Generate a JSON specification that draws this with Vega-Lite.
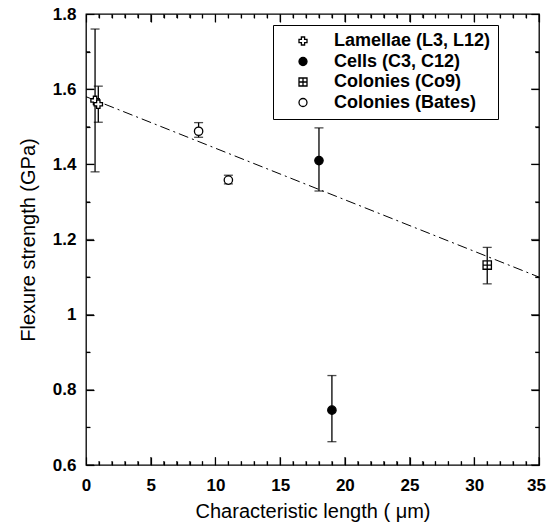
{
  "$schema": "https://vega.github.io/schema/vega-lite/v6.json",
  "width": 453,
  "height": 451,
  "autosize": {"type": "none"},
  "padding": {"left": 86, "top": 14, "right": 8, "bottom": 62},
  "background": "white",
  "config": {
    "view": {"stroke": "black", "strokeWidth": 1.3},
    "font": "Liberation Sans",
    "axis": {
      "domain": false,
      "grid": false,
      "ticks": true,
      "tickColor": "black",
      "tickOpacity": 1,
      "tickWidth": 1.2,
      "labelColor": "black",
      "labelFont": "Liberation Sans",
      "labelFontWeight": "bold",
      "labelFontSize": 17,
      "titleFont": "Liberation Sans",
      "titleFontWeight": "normal",
      "titleFontSize": 20,
      "titleColor": "black",
      "labelOverlap": false,
      "labelFlush": false
    }
  },
  "datasets": {
    "pts": [
      {"series": "Lamellae (L3, L12)", "x": 0.7, "y": 1.57, "lo": 1.38, "hi": 1.76},
      {"series": "Lamellae (L3, L12)", "x": 0.95, "y": 1.56, "lo": 1.512, "hi": 1.608},
      {"series": "Cells (C3, C12)", "x": 18.0, "y": 1.41, "lo": 1.329, "hi": 1.497},
      {"series": "Cells (C3, C12)", "x": 19.0, "y": 0.746, "lo": 0.662, "hi": 0.838},
      {"series": "Colonies (Co9)", "x": 31.0, "y": 1.132, "lo": 1.082, "hi": 1.179},
      {"series": "Colonies (Bates)", "x": 8.7, "y": 1.488, "lo": 1.472, "hi": 1.511},
      {"series": "Colonies (Bates)", "x": 11.0, "y": 1.358, "lo": 1.348, "hi": 1.371}
    ],
    "fit": [
      {"x": 0, "y": 1.58},
      {"x": 35, "y": 1.10}
    ],
    "xt": [
      {"v": 0, "kind": "major"}, {"v": 1, "kind": "minor"}, {"v": 2, "kind": "minor"}, {"v": 3, "kind": "minor"}, {"v": 4, "kind": "minor"},
      {"v": 5, "kind": "major"}, {"v": 6, "kind": "minor"}, {"v": 7, "kind": "minor"}, {"v": 8, "kind": "minor"}, {"v": 9, "kind": "minor"},
      {"v": 10, "kind": "major"}, {"v": 11, "kind": "minor"}, {"v": 12, "kind": "minor"}, {"v": 13, "kind": "minor"}, {"v": 14, "kind": "minor"},
      {"v": 15, "kind": "major"}, {"v": 16, "kind": "minor"}, {"v": 17, "kind": "minor"}, {"v": 18, "kind": "minor"}, {"v": 19, "kind": "minor"},
      {"v": 20, "kind": "major"}, {"v": 21, "kind": "minor"}, {"v": 22, "kind": "minor"}, {"v": 23, "kind": "minor"}, {"v": 24, "kind": "minor"},
      {"v": 25, "kind": "major"}, {"v": 26, "kind": "minor"}, {"v": 27, "kind": "minor"}, {"v": 28, "kind": "minor"}, {"v": 29, "kind": "minor"},
      {"v": 30, "kind": "major"}, {"v": 31, "kind": "minor"}, {"v": 32, "kind": "minor"}, {"v": 33, "kind": "minor"}, {"v": 34, "kind": "minor"},
      {"v": 35, "kind": "major"}
    ],
    "yt": [
      {"v": 0.6, "kind": "major"}, {"v": 0.7, "kind": "minor"}, {"v": 0.8, "kind": "major"}, {"v": 0.9, "kind": "minor"},
      {"v": 1.0, "kind": "major"}, {"v": 1.1, "kind": "minor"}, {"v": 1.2, "kind": "major"}, {"v": 1.3, "kind": "minor"},
      {"v": 1.4, "kind": "major"}, {"v": 1.5, "kind": "minor"}, {"v": 1.6, "kind": "major"}, {"v": 1.7, "kind": "minor"},
      {"v": 1.8, "kind": "major"}
    ]
  },
  "resolve": {"axis": {"x": "independent", "y": "independent"}},
  "layer": [
    {
      "data": {"name": "fit"},
      "mark": {"type": "line", "color": "black", "strokeWidth": 1, "strokeDash": [10, 4, 2, 4]},
      "encoding": {
        "x": {
          "field": "x", "type": "quantitative",
          "scale": {"domain": [0, 35], "nice": false, "zero": false},
          "axis": {"orient": "top", "title": null, "labels": false, "tickOpacity": 1, "values": [0, 5, 10, 15, 20, 25, 30, 35], "tickSize": -8}
        },
        "y": {
          "field": "y", "type": "quantitative",
          "scale": {"domain": [0.6, 1.8], "nice": false, "zero": false},
          "axis": {"orient": "right", "title": null, "labels": false, "tickOpacity": 1, "values": [0.6, 0.8, 1.0, 1.2, 1.4, 1.6, 1.8], "tickSize": -8}
        }
      }
    },
    {
      "data": {"name": "xt"},
      "mark": {"type": "tick", "orient": "vertical", "color": "black", "thickness": 1.2, "clip": true},
      "encoding": {
        "x": {"field": "v", "type": "quantitative", "axis": null},
        "y": {"datum": 0.6, "type": "quantitative", "axis": null},
        "size": {"field": "kind", "type": "nominal", "scale": {"domain": ["major", "minor"], "range": [16, 8]}, "legend": null}
      }
    },
    {
      "data": {"name": "xt"},
      "mark": {"type": "tick", "orient": "vertical", "color": "black", "thickness": 1.2, "clip": true},
      "encoding": {
        "x": {"field": "v", "type": "quantitative", "axis": null},
        "y": {"datum": 1.8, "type": "quantitative", "axis": null},
        "size": {"field": "kind", "type": "nominal", "legend": null}
      }
    },
    {
      "data": {"name": "yt"},
      "mark": {"type": "tick", "orient": "horizontal", "color": "black", "thickness": 1.2, "clip": true},
      "encoding": {
        "y": {"field": "v", "type": "quantitative", "axis": null},
        "x": {"datum": 0, "type": "quantitative", "axis": null},
        "size": {"field": "kind", "type": "nominal", "legend": null}
      }
    },
    {
      "data": {"name": "yt"},
      "mark": {"type": "tick", "orient": "horizontal", "color": "black", "thickness": 1.2, "clip": true},
      "encoding": {
        "y": {"field": "v", "type": "quantitative", "axis": null},
        "x": {"datum": 35, "type": "quantitative", "axis": null},
        "size": {"field": "kind", "type": "nominal", "legend": null}
      }
    },
    {
      "data": {"name": "pts"},
      "mark": {"type": "rule", "color": "black", "strokeWidth": 1.3},
      "encoding": {
        "x": {
          "field": "x", "type": "quantitative",
          "axis": {"orient": "top", "title": null, "labels": false, "tickOpacity": 1, "values": [1,2,3,4,6,7,8,9,11,12,13,14,16,17,18,19,21,22,23,24,26,27,28,29,31,32,33,34], "tickSize": -4}
        },
        "y": {
          "field": "lo", "type": "quantitative",
          "axis": {"orient": "right", "title": null, "labels": false, "tickOpacity": 1, "values": [0.7, 0.9, 1.1, 1.3, 1.5, 1.7], "tickSize": -4}
        },
        "y2": {"field": "hi"}
      }
    },
    {
      "data": {"name": "pts"},
      "mark": {"type": "tick", "orient": "horizontal", "color": "black", "size": 9, "thickness": 1.3},
      "encoding": {
        "x": {
          "field": "x", "type": "quantitative",
          "axis": {"orient": "bottom", "title": null, "labels": false, "tickOpacity": 1, "values": [1,2,3,4,6,7,8,9,11,12,13,14,16,17,18,19,21,22,23,24,26,27,28,29,31,32,33,34], "tickSize": -4}
        },
        "y": {
          "field": "lo", "type": "quantitative",
          "axis": {"orient": "left", "title": null, "labels": false, "tickOpacity": 1, "values": [0.7, 0.9, 1.1, 1.3, 1.5, 1.7], "tickSize": -4}
        }
      }
    },
    {
      "data": {"name": "pts"},
      "mark": {"type": "tick", "orient": "horizontal", "color": "black", "size": 9, "thickness": 1.3},
      "encoding": {
        "x": {"field": "x", "type": "quantitative", "axis": null},
        "y": {"field": "hi", "type": "quantitative", "axis": null}
      }
    },
    {
      "data": {"name": "pts"},
      "mark": {"type": "point", "strokeWidth": 1.3, "size": 70, "opacity": 1},
      "encoding": {
        "x": {
          "field": "x", "type": "quantitative",
          "axis": {
            "orient": "bottom",
            "title": "Characteristic length ( μm)",
            "titlePadding": 8,
            "labelPadding": 20,
            "tickOpacity": 1,
            "values": [0, 5, 10, 15, 20, 25, 30, 35],
            "tickSize": -8,
            "labelOffset": {"condition": {"test": "datum.value === 35", "value": -3}, "value": 0}
          }
        },
        "y": {
          "field": "y", "type": "quantitative",
          "axis": {
            "orient": "left",
            "title": "Flexure strength (GPa)",
            "titlePadding": 14,
            "labelPadding": 18,
            "tickOpacity": 1,
            "format": "~g",
            "values": [0.6, 0.8, 1.0, 1.2, 1.4, 1.6, 1.8],
            "tickSize": -8
          }
        },
        "shape": {
          "field": "series", "type": "nominal",
          "scale": {
            "domain": ["Lamellae (L3, L12)", "Cells (C3, C12)", "Colonies (Co9)", "Colonies (Bates)"],
            "range": ["cross", "circle", "M-1,-1H1V1H-1Z M0,-1V1 M-1,0H1", "circle"]
          },
          "legend": {
            "orient": "none", "legendX": 187, "legendY": 11, "title": null,
            "strokeColor": "black", "fillColor": "white", "padding": 7,
            "labelFont": "Liberation Sans", "labelFontWeight": "bold", "labelFontSize": 18, "labelColor": "black",
            "symbolSize": 64, "symbolStrokeWidth": 1.3,
            "symbolOffset": 14, "labelOffset": 22, "rowPadding": 2.5
          }
        },
        "fill": {
          "field": "series", "type": "nominal",
          "scale": {
            "domain": ["Lamellae (L3, L12)", "Cells (C3, C12)", "Colonies (Co9)", "Colonies (Bates)"],
            "range": ["white", "black", "white", "white"]
          },
          "legend": {
            "orient": "none", "legendX": 187, "legendY": 11, "title": null,
            "strokeColor": "black", "fillColor": "white", "padding": 7,
            "labelFont": "Liberation Sans", "labelFontWeight": "bold", "labelFontSize": 18, "labelColor": "black",
            "symbolSize": 64, "symbolStrokeWidth": 1.3,
            "symbolOffset": 14, "labelOffset": 22, "rowPadding": 2.5
          }
        },
        "stroke": {
          "field": "series", "type": "nominal",
          "scale": {
            "domain": ["Lamellae (L3, L12)", "Cells (C3, C12)", "Colonies (Co9)", "Colonies (Bates)"],
            "range": ["black", "black", "black", "black"]
          },
          "legend": {
            "orient": "none", "legendX": 187, "legendY": 11, "title": null,
            "strokeColor": "black", "fillColor": "white", "padding": 7,
            "labelFont": "Liberation Sans", "labelFontWeight": "bold", "labelFontSize": 18, "labelColor": "black",
            "symbolSize": 64, "symbolStrokeWidth": 1.3,
            "symbolOffset": 14, "labelOffset": 22, "rowPadding": 2.5
          }
        }
      }
    }
  ]
}
